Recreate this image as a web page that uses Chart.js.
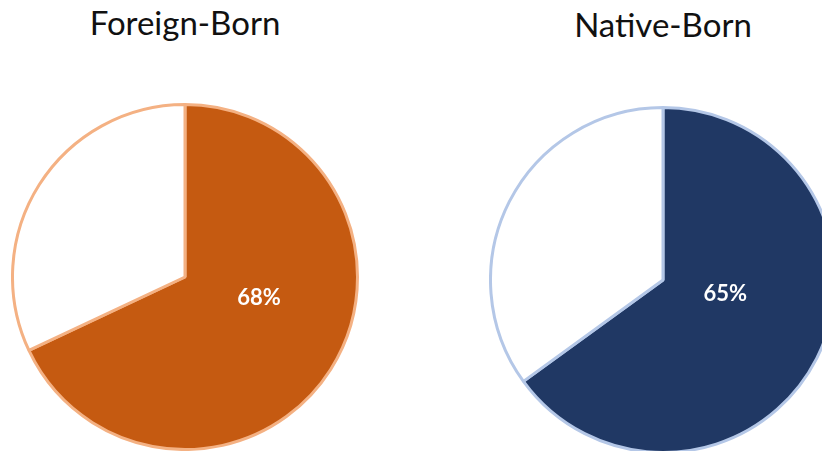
<!DOCTYPE html>
<html>
<head>
<meta charset="utf-8">
<script src="https://cdn.jsdelivr.net/npm/chart.js@4/dist/chart.umd.min.js"></script>
<style>
  html, body { margin: 0; padding: 0; background: #fff; overflow: hidden; }
  body { width: 822px; height: 451px; position: relative; }
  .title { position: absolute; font-family: Lato, "Open Sans", sans-serif; font-size: 33px; color: #111; white-space: nowrap; transform: translateX(-50%); line-height: 1; }
  .pie { position: absolute; width: 348px; height: 348px; }
</style>
</head>
<body>
<div class="title" id="t1" style="left:185px; top:6px;"></div>
<div class="title" id="t2" style="left:663px; top:8px;"></div>
<div class="pie" style="left:11px; top:103px;"><canvas id="pie1"></canvas></div>
<div class="pie" style="left:489px; top:106px;"><canvas id="pie2"></canvas></div>
<script>
const titles = ["Foreign-Born", "Native-Born"];
const foreignBorn = [68, 32];
const nativeBorn = [65, 35];

document.getElementById("t1").textContent = titles[0];
document.getElementById("t2").textContent = titles[1];

// label for the first slice, placed inside the arc
const sliceLabel = {
  id: 'sliceLabel',
  afterDatasetsDraw(chart, args, opts) {
    const arc = chart.getDatasetMeta(0).data[0];
    const val = chart.data.datasets[0].data[0];
    const a = arc.startAngle + (arc.endAngle - arc.startAngle) * opts.angleFrac;
    const x = arc.x + Math.cos(a) * arc.outerRadius * opts.radiusFrac;
    const y = arc.y + Math.sin(a) * arc.outerRadius * opts.radiusFrac;
    const ctx = chart.ctx;
    ctx.save();
    ctx.fillStyle = '#fff';
    ctx.font = 'bold 22px Lato, "Open Sans", sans-serif';
    ctx.textAlign = 'center';
    ctx.textBaseline = 'middle';
    ctx.fillText(val + '%', x, y);
    ctx.restore();
  }
};

function makePie(id, data, fill, edge, angleFrac, radiusFrac) {
  return new Chart(document.getElementById(id), {
    type: 'pie',
    data: {
      labels: ['Yes', 'No'],
      datasets: [{ data, backgroundColor: [fill, '#ffffff'], borderColor: edge, borderWidth: 3 }]
    },
    options: {
      responsive: true,
      maintainAspectRatio: false,
      animation: false,
      layout: { padding: 0 },
      plugins: {
        legend: { display: false },
        tooltip: { enabled: false },
        sliceLabel: { angleFrac, radiusFrac }
      }
    },
    plugins: [sliceLabel]
  });
}

makePie('pie1', foreignBorn, '#C55A11', '#F4B183', 0.432, 0.446);
makePie('pie2', nativeBorn, '#203864', '#B4C7E7', 0.437, 0.37);
</script>
</body>
</html>
